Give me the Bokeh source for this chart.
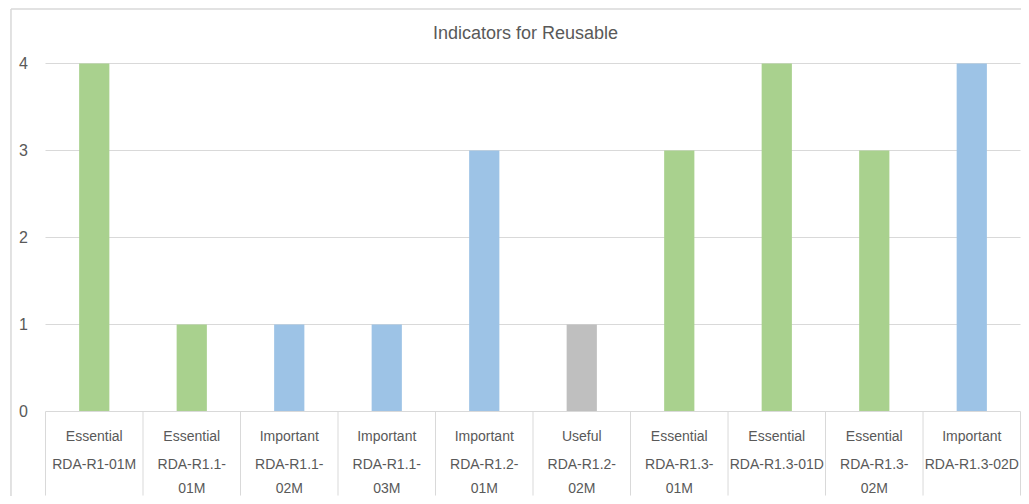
from bokeh.plotting import figure
from bokeh.models import Range1d, Label
from bokeh.core.properties import value
from bokeh.embed import file_html
from bokeh.resources import INLINE

# ---- data ----
chart_title = "Indicators for Reusable"
levels = ["Essential", "Essential", "Important", "Important", "Important",
          "Useful", "Essential", "Essential", "Essential", "Important"]
indicators = ["RDA-R1-01M", "RDA-R1.1-\n01M", "RDA-R1.1-\n02M", "RDA-R1.1-\n03M",
              "RDA-R1.2-\n01M", "RDA-R1.2-\n02M", "RDA-R1.3-\n01M", "RDA-R1.3-01D",
              "RDA-R1.3-\n02M", "RDA-R1.3-02D"]
counts = [4, 1, 1, 1, 3, 1, 3, 4, 3, 4]
y_ticks = [0, 1, 2, 3, 4]
level_colors = {"Essential": "#a9d18e", "Important": "#9dc3e6", "Useful": "#bfbfbf"}

# ---- layout constants ----
W, H = 1021, 496
n = len(counts)
x0, x1 = -0.4615, 10.01
y0, y1 = -0.977, 4.724
text_color = "#595959"
line_color = "#d9d9d9"
font = value("Liberation Sans")

p = figure(width=W, height=H, x_range=Range1d(x0, x1), y_range=Range1d(y0, y1),
           output_backend="svg", toolbar_location=None,
           x_axis_location=None, y_axis_location=None, min_border=0)
p.grid.visible = False
p.outline_line_color = None
p.background_fill_color = "white"
p.border_fill_color = "white"

# chart border (left & top)
top_border = y1 - 8.5 / 87
left_border = -0.354
p.segment(x0=[left_border], y0=[y0], x1=[left_border], y1=[top_border], line_color=line_color, line_width=1.5)
p.segment(x0=[left_border], y0=[top_border], x1=[x1], y1=[top_border], line_color=line_color, line_width=1.5)

# gridlines
gy = [t for t in y_ticks if t > 0]
p.segment(x0=[0] * len(gy), y0=gy, x1=[n] * len(gy), y1=gy, line_color=line_color, line_width=1)

# bars
xs = [i + 0.5 for i in range(n)]
colors = [level_colors[l] for l in levels]
p.vbar(x=xs, top=counts, bottom=0, width=0.31, fill_color=colors, line_color=None)

# category table
table_bottom = -0.966
p.segment(x0=[0], y0=[0], x1=[n], y1=[0], line_color=line_color, line_width=1)
vx = list(range(n + 1))
p.segment(x0=vx, y0=[0] * len(vx), x1=vx, y1=[table_bottom] * len(vx), line_color=line_color, line_width=1)

# y tick labels
p.text(x=[-0.225] * len(y_ticks), y=y_ticks, text=[str(t) for t in y_ticks],
       text_align="center", text_baseline="middle", text_font=font,
       text_font_size="16px", text_color=text_color)

# level labels
p.text(x=xs, y=[-0.287] * n, text=levels, text_align="center", text_baseline="middle",
       text_font=font, text_font_size="14px", text_color=text_color)

# indicator labels (wrapped)
first = [s.split("\n")[0] for s in indicators]
second = [s.split("\n")[1] if "\n" in s else "" for s in indicators]
p.text(x=xs, y=[-0.609] * n, text=first, text_align="center", text_baseline="middle",
       text_font=font, text_font_size="14px", text_color=text_color)
p.text(x=xs, y=[-0.874] * n, text=second, text_align="center", text_baseline="middle",
       text_font=font, text_font_size="14px", text_color=text_color)

# title
p.add_layout(Label(x=525, y=H - 32, x_units="screen", y_units="screen", text=chart_title,
                   text_align="center", text_baseline="middle", text_font="Liberation Sans",
                   text_font_size="18px", text_color=text_color))

open("out.html", "w").write(file_html(p, INLINE))
